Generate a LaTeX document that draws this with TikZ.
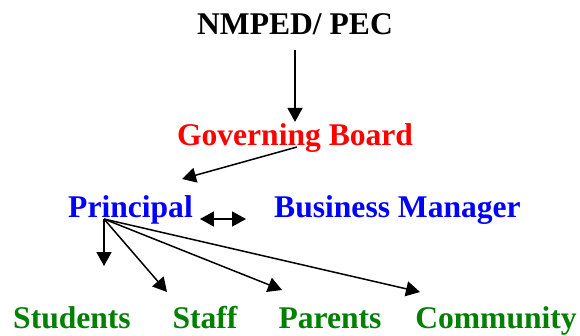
\documentclass[tikz,border=0pt]{standalone}
\usepackage{fontspec}
\setmainfont{Liberation Serif}
\usetikzlibrary{positioning}
\usetikzlibrary{arrows.meta}
\definecolor{chartred}{RGB}{255,0,0}
\definecolor{chartblue}{RGB}{0,0,255}
\definecolor{chartgreen}{RGB}{0,128,0}

\begin{document}
\begin{tikzpicture}[
		x=1bp, y=-1bp,
		label/.style={inner sep=0pt, anchor=base, font=\fontsize{31.7}{38}\selectfont\bfseries},
		top/.style={label, text=black},
		board/.style={label, text=chartred},
		staffrow/.style={label, text=chartblue},
		group/.style={label, text=chartgreen},
		arrow/.style={-{Triangle[length=14bp,width=15bp]}, line width=1.5bp},
		dblarrow/.style={{Triangle[length=14bp,width=15bp]}-{Triangle[length=14bp,width=15bp]}, line width=1.5bp}
	]
		\useasboundingbox (0,0) rectangle (580,335);

		\node[top] (nmped) at (295,34) {NMPED/ PEC};
		\node[board] (gb) at (295,145) {Governing Board};
		\node[staffrow] (principal) at (130.5,217) {Principal};
		\node[staffrow] (bm) at (397.5,217) {Business Manager};
		\node[group] (students) at (72,328) {Students};
		\node[group] (staff) at (205,328) {Staff};
		\node[group] (parents) at (330,328) {Parents};
		\node[group] (community) at (496,328) {Community};

		% where the arrows leave and meet the texts
		\coordinate (gb-out) at (297,147);
		\coordinate (pr-in) at (182,179);
		\coordinate (fan) at (104,219);
		\coordinate (students-in) at (104,266);
		\coordinate (staff-in) at (167,292);
		\coordinate (parents-in) at (282,290);
		\coordinate (community-in) at (420,292);

		\draw[arrow, shorten <=15bp, shorten >=1bp] (nmped) -- (gb);
		\draw[arrow] (gb-out) -- (pr-in);
		\draw[dblarrow] ([xshift=7bp,yshift=-2bp]principal.base east) -- ([xshift=-28bp,yshift=-2bp]bm.base west);

		\draw[arrow] (fan) -- (students-in);
		\draw[arrow] (fan) -- (staff-in);
		\draw[arrow] (fan) -- (parents-in);
		\draw[arrow] (fan) -- (community-in);
	\end{tikzpicture}
\end{document}
